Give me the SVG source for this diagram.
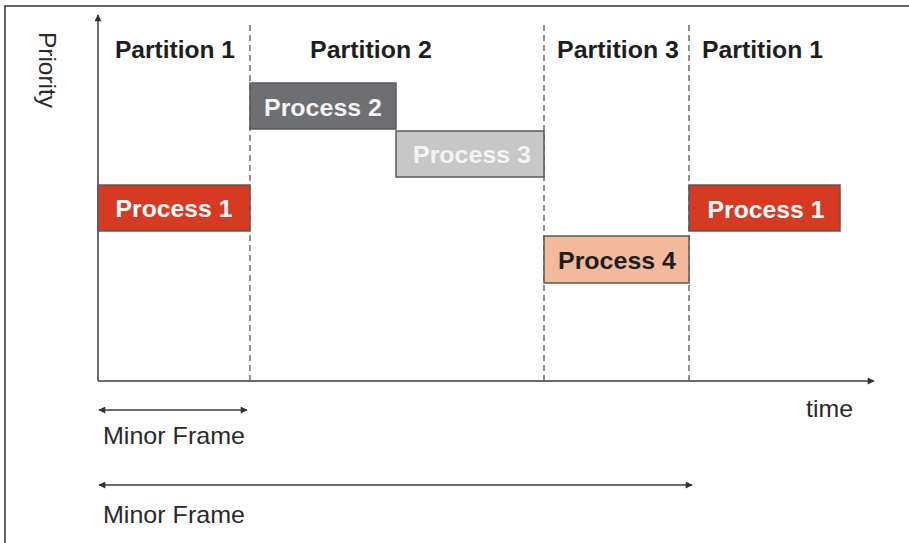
<svg xmlns="http://www.w3.org/2000/svg" width="909" height="543" viewBox="0 0 909 543">
<defs>
<style>
.frame{stroke:#333;stroke-width:1.5;fill:none}
.axis{stroke:#6b6b6b;stroke-width:2;fill:none}
.dash{stroke:#555;stroke-width:1.3;stroke-dasharray:6 4;fill:none}
.box{stroke:#5a5a5a;stroke-width:1.5}
.part{font-family:"Liberation Sans",Arial,sans-serif;font-weight:bold;font-size:23.5px;fill:#1e1e1e}
.plabel{font-family:"Liberation Sans",Arial,sans-serif;font-weight:bold;font-size:24px;text-anchor:middle}
.lab{font-family:"Liberation Sans",Arial,sans-serif;font-size:24px;fill:#2a2a2a}
</style>
<marker id="ah" viewBox="0 0 10 10" refX="9" refY="5" markerWidth="9" markerHeight="7" markerUnits="userSpaceOnUse" orient="auto-start-reverse">
<path d="M0,0 L10,5 L0,10 z" fill="#333"/>
</marker>
</defs>
<rect width="909" height="543" fill="#fff"/>
<path class="frame" d="M5,543 V6 H909"/>
<g id="connectors">
<line class="axis" x1="98" y1="381" x2="98" y2="15" marker-end="url(#ah)"/>
<line class="axis" x1="98" y1="381" x2="874" y2="381" marker-end="url(#ah)"/>
<line class="dash" x1="250" y1="25" x2="250" y2="381"/>
<line class="dash" x1="544" y1="25" x2="544" y2="381"/>
<line class="dash" x1="689" y1="25" x2="689" y2="381"/>
<line class="axis" x1="99" y1="410" x2="247" y2="410" stroke-width="1.5" marker-start="url(#ah)" marker-end="url(#ah)"/>
<line class="axis" x1="99" y1="485" x2="692" y2="485" stroke-width="1.5" marker-start="url(#ah)" marker-end="url(#ah)"/>
</g>
<g id="labels">
<text class="lab" transform="translate(39,32) rotate(90)" textLength="76" lengthAdjust="spacingAndGlyphs">Priority</text>
<text class="lab" x="806" y="417" textLength="47" lengthAdjust="spacingAndGlyphs">time</text>
<text class="lab" x="103" y="444" textLength="142" lengthAdjust="spacingAndGlyphs">Minor Frame</text>
<text class="lab" x="103" y="523" textLength="142" lengthAdjust="spacingAndGlyphs">Minor Frame</text>
<text class="part" x="115" y="58" textLength="120" lengthAdjust="spacingAndGlyphs">Partition 1</text>
<text class="part" x="310" y="58" textLength="122" lengthAdjust="spacingAndGlyphs">Partition 2</text>
<text class="part" x="557" y="58" textLength="122" lengthAdjust="spacingAndGlyphs">Partition 3</text>
<text class="part" x="702" y="58" textLength="121" lengthAdjust="spacingAndGlyphs">Partition 1</text>
</g>
<g id="process1a">
<rect class="box" x="98" y="185" width="152" height="46" fill="#d63a22"/>
<text class="plabel" x="174" y="217" fill="#fff" textLength="117" lengthAdjust="spacingAndGlyphs">Process 1</text>
</g>
<g id="process2">
<rect class="box" x="250" y="83" width="146" height="46" fill="#6e6f72"/>
<text class="plabel" x="323" y="116" fill="#f4f4f4" textLength="118" lengthAdjust="spacingAndGlyphs">Process 2</text>
</g>
<g id="process3">
<rect class="box" x="396" y="131" width="148" height="46" fill="#c7c7c8"/>
<text class="plabel" x="472" y="163" fill="#f4f4f4" textLength="118" lengthAdjust="spacingAndGlyphs">Process 3</text>
</g>
<g id="process4">
<rect class="box" x="544" y="236" width="145" height="47" fill="#f3b99b"/>
<text class="plabel" x="617" y="269" fill="#1e1e1e" textLength="118" lengthAdjust="spacingAndGlyphs">Process 4</text>
</g>
<g id="process1b">
<rect class="box" x="689" y="185" width="151" height="46" fill="#d63a22"/>
<text class="plabel" x="766" y="218" fill="#fff" textLength="117" lengthAdjust="spacingAndGlyphs">Process 1</text>
</g>
</svg>
